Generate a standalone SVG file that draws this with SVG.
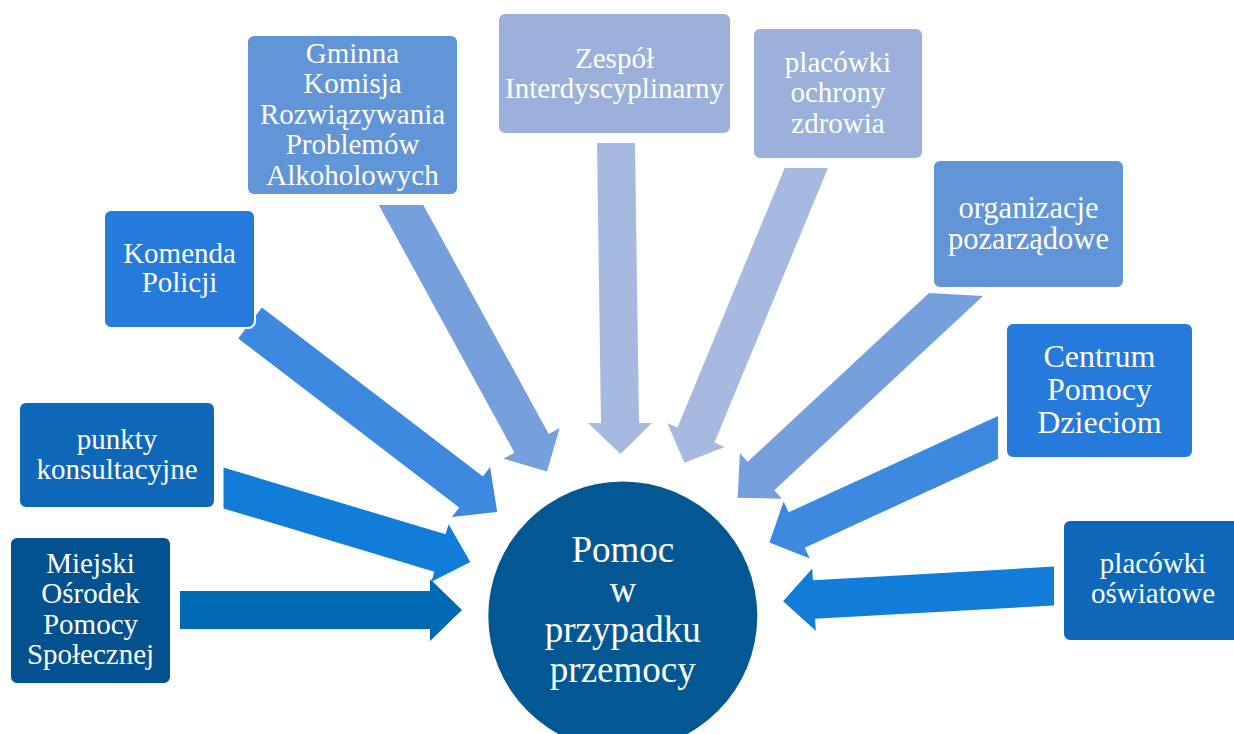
<svg xmlns="http://www.w3.org/2000/svg" width="1234" height="734" viewBox="0 0 1234 734">
<style>
.box{stroke:#ffffff;stroke-width:2}
.t{fill:#ffffff;text-anchor:middle;font-size:29px}
.c1{fill:#03518E}.c2{fill:#0F67B9}.c3{fill:#257ADB}.c4{fill:#6294D8}.c5{fill:#9BB1DB}
.a1{fill:#0069B4}.a2{fill:#127CD9}.a3{fill:#3D89E0}.a4{fill:#76A0DC}.a5{fill:#A6BADF}
</style>
<rect width="1234" height="734" fill="#ffffff"/>
<g id="connectors">
<polygon class="a1" points="180,591 430,591 430,579 462,610 430,641 430,629 180,629"/>
<polygon class="a2" points="223.5,467.6 445.6,534.3 448.6,524.3 470.3,562.1 431.4,581.7 434.4,571.7 223.5,508.4"/>
<polygon class="a3" points="261.9,307.5 482.9,476.5 490.1,467 497.2,512.1 451.9,517 459.2,507.5 238.2,338.5"/>
<polygon class="a4" points="378.8,205 423.3,205 548.7,433.9 559.7,427.9 547,471.4 503.5,458.7 514.5,452.7"/>
<polygon class="a5" points="597,143 635,143 639,423 652,423 620.5,454 588,423 601,423"/>
<polygon class="a5" points="784.7,168 828,168 714.5,442.6 724.7,446.9 684.5,462.7 667.4,423.2 677.5,427.4"/>
<polygon class="a4" points="929,293 983,296 774.3,490.3 782.1,498.7 737.6,497.8 739.9,453.3 747.7,461.7"/>
<polygon class="a3" points="998,416.1 998,458.9 804.8,547.7 809.8,558.5 769.4,542.5 783.6,501.6 788.6,512.3"/>
<polygon class="a2" points="1054,566.6 1054,605.4 815.1,618.8 815.8,630.7 783.1,601.2 812.3,568.4 812.9,580.2"/>
</g>
<g id="n-mops">
<rect class="box c1" x="10" y="537" width="161" height="147" rx="7"/>
<text class="t" font-family="Liberation Serif, Times New Roman, serif"><tspan x="90.5" y="573">Miejski</tspan><tspan x="90.5" y="603">Ośrodek</tspan><tspan x="90.5" y="634">Pomocy</tspan><tspan x="90.5" y="664">Społecznej</tspan></text>
</g>
<g id="n-punkty">
<rect class="box c2" x="19" y="402" width="196" height="106" rx="7"/>
<text class="t" font-family="Liberation Serif, Times New Roman, serif"><tspan x="117" y="449">punkty</tspan><tspan x="117" y="479">konsultacyjne</tspan></text>
</g>
<g id="n-policja">
<rect class="box c3" x="104" y="210" width="151" height="118" rx="7"/>
<text class="t" font-family="Liberation Serif, Times New Roman, serif"><tspan x="179.5" y="263">Komenda</tspan><tspan x="179.5" y="292">Policji</tspan></text>
</g>
<g id="n-gkrpa">
<rect class="box c4" x="247" y="35" width="211" height="160" rx="7"/>
<text class="t" font-family="Liberation Serif, Times New Roman, serif"><tspan x="352.5" y="63">Gminna</tspan><tspan x="352.5" y="93">Komisja</tspan><tspan x="352.5" y="124">Rozwiązywania</tspan><tspan x="352.5" y="154">Problemów</tspan><tspan x="352.5" y="185">Alkoholowych</tspan></text>
</g>
<g id="n-zespol">
<rect class="box c5" x="498" y="13" width="233" height="121" rx="7"/>
<text class="t" font-family="Liberation Serif, Times New Roman, serif"><tspan x="614.5" y="68">Zespół</tspan><tspan x="614.5" y="98">Interdyscyplinarny</tspan></text>
</g>
<g id="n-zdrowie">
<rect class="box c5" x="753" y="28" width="170" height="131" rx="7"/>
<text class="t" font-family="Liberation Serif, Times New Roman, serif"><tspan x="838" y="72">placówki</tspan><tspan x="838" y="102">ochrony</tspan><tspan x="838" y="133">zdrowia</tspan></text>
</g>
<g id="n-ngo">
<rect class="box c4" x="933" y="160" width="191" height="128" rx="7"/>
<text class="t" font-family="Liberation Serif, Times New Roman, serif" style="font-size:30.5px"><tspan x="1028.5" y="218">organizacje</tspan><tspan x="1028.5" y="249">pozarządowe</tspan></text>
</g>
<g id="n-cpd">
<rect class="box c3" x="1006" y="323" width="187" height="135" rx="7"/>
<text class="t" font-family="Liberation Serif, Times New Roman, serif" style="font-size:32px"><tspan x="1099.5" y="367">Centrum</tspan><tspan x="1099.5" y="400">Pomocy</tspan><tspan x="1099.5" y="433">Dzieciom</tspan></text>
</g>
<g id="n-oswiata">
<rect class="box c2" x="1063" y="520" width="190" height="121" rx="7"/>
<text class="t" font-family="Liberation Serif, Times New Roman, serif"><tspan x="1153" y="573">placówki</tspan><tspan x="1153" y="603">oświatowe</tspan></text>
</g>
<g id="n-center">
<circle cx="622.8" cy="616" r="134.5" fill="#035894"/>
<text class="t" font-family="Liberation Serif, Times New Roman, serif" style="font-size:37px"><tspan x="622.8" y="562">Pomoc</tspan><tspan x="622.8" y="602">w</tspan><tspan x="622.8" y="642">przypadku</tspan><tspan x="622.8" y="682">przemocy</tspan></text>
</g>
</svg>
